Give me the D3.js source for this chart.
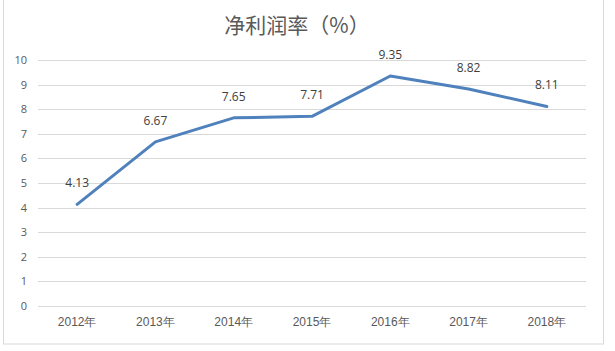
<!DOCTYPE html>
<html>
<head>
<meta charset="utf-8">
<script src="https://cdn.jsdelivr.net/npm/d3@7"></script>
<style>
  html, body { margin: 0; padding: 0; background: #fff; }
  svg { display: block; font-family: "Noto Sans CJK SC", "Open Sans", sans-serif; }
</style>
</head>
<body>
<script>
var years = ['2012年', '2013年', '2014年', '2015年', '2016年', '2017年', '2018年']
var netMargin = [4.13, 6.67, 7.65, 7.71, 9.35, 8.82, 8.11]
var yTicks = [0, 1, 2, 3, 4, 5, 6, 7, 8, 9, 10]
var title = '净利润率（%）'

;(function() {
  var W = 615, H = 351
  var svg = d3.select('body').append('svg')
    .attr('width', W)
    .attr('height', H)

  // chart frame
  svg.append('rect')
    .attr('x', 3.5).attr('y', -1)
    .attr('width', 600).attr('height', 345)
    .attr('fill', '#fff')
    .attr('stroke', '#d9d9d9')

  var plotL = 38, plotR = 586, plotT = 60, plotB = 306

  var x = d3.scaleBand().domain(years).range([plotL, plotR])
  var y = d3.scaleLinear().domain([0, 10]).range([plotB, plotT])

  // gridlines
  svg.append('g').selectAll('line').data(yTicks).enter()
    .append('line')
    .attr('x1', plotL).attr('x2', plotR)
    .attr('y1', function(d) { return Math.round(y(d)) + 0.5 })
    .attr('y2', function(d) { return Math.round(y(d)) + 0.5 })
    .attr('stroke', '#d9d9d9')
    .attr('stroke-width', 1)

  // y axis labels
  var yAxis = svg.append('g')
    .attr('transform', 'translate(' + (plotL - 11) + ',0)')
    .call(d3.axisLeft(y).tickValues(yTicks).tickSize(0).tickPadding(0))
  yAxis.select('.domain').remove()
  yAxis.selectAll('text')
    .attr('fill', '#595959')
    .attr('font-size', 11)
    .attr('font-family', '"Open Sans", sans-serif')

  // x axis labels
  var xAxis = svg.append('g')
    .attr('transform', 'translate(0,' + plotB + ')')
    .call(d3.axisBottom(x).tickSize(0).tickPadding(11))
  xAxis.select('.domain').remove()
  xAxis.selectAll('text')
    .attr('fill', '#595959')
    .attr('font-size', 12)

  // line
  var line = d3.line()
    .x(function(d, i) { return x(years[i]) + x.bandwidth() / 2 })
    .y(function(d) { return y(d) })

  svg.append('path')
    .datum(netMargin)
    .attr('d', line)
    .attr('fill', 'none')
    .attr('stroke', '#4f81bd')
    .attr('stroke-width', 3)
    .attr('stroke-linejoin', 'round')
    .attr('stroke-linecap', 'round')

  // data labels
  svg.append('g').selectAll('text').data(netMargin).enter()
    .append('text')
    .attr('x', function(d, i) { return x(years[i]) + x.bandwidth() / 2 })
    .attr('y', function(d) { return y(d) - 17 })
    .attr('text-anchor', 'middle')
    .attr('fill', '#404040')
    .attr('font-size', 12)
    .attr('font-family', '"Open Sans", sans-serif')
    .text(function(d) { return d.toFixed(2) })

  // title
  svg.append('text')
    .attr('x', 297)
    .attr('y', 33)
    .attr('text-anchor', 'middle')
    .attr('fill', '#595959')
    .attr('font-size', 21)
    .text(title)
}())
</script>
</body>
</html>
